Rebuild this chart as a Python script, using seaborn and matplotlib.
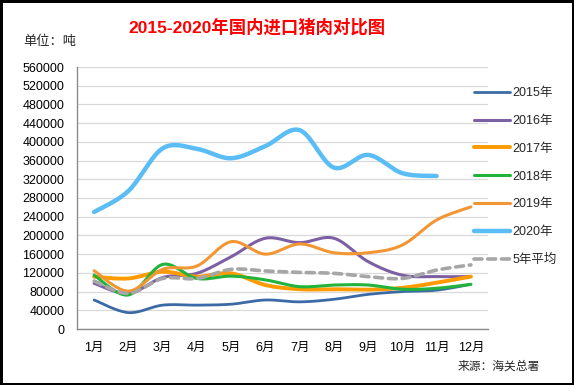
import matplotlib
matplotlib.use("Agg")
import matplotlib.pyplot as plt
import numpy as np
import pandas as pd
import seaborn as sns

# --- Data (tonnes per month) ---
MONTHS = ["1月", "2月", "3月", "4月", "5月", "6月", "7月", "8月", "9月", "10月", "11月", "12月"]
Y2015 = [62000, 35000, 51000, 51000, 53000, 62000, 58000, 63500, 74000, 80000, 83000, 95500]
Y2016 = [97600, 76000, 110000, 119000, 154500, 194000, 184500, 194000, 144000, 115000, 112000, 112000]
Y2017 = [111800, 108000, 122500, 112000, 119000, 94000, 85000, 85000, 84000, 88000, 99000, 112000]
Y2018 = [115000, 72700, 138000, 108000, 113000, 105000, 90500, 94000, 94000, 85000, 87000, 95500]
Y2019 = [124500, 81000, 127500, 134600, 186600, 160000, 181700, 163000, 163000, 179500, 233000, 261000]
Y2020 = [250000, 295000, 386000, 385000, 365000, 391000, 425000, 345000, 372000, 333000, 327000]
AVG5 = [102500, 76000, 108000, 108000, 127500, 124000, 121000, 119000, 112000, 108000, 126000, 137000]
Y_TICKS = list(range(0, 560001, 40000))

SERIES = [
    ("2015年", Y2015, "#3C6AA6", 2.0, "-"),
    ("2016年", Y2016, "#7D5FA3", 2.2, "-"),
    ("2017年", Y2017, "#FF9B00", 2.8, "-"),
    ("2018年", Y2018, "#22B33C", 2.2, "-"),
    ("2019年", Y2019, "#F29634", 2.2, "-"),
    ("2020年", Y2020, "#5BBDF5", 3.2, "-"),
    ("5年平均", AVG5, "#A6A6A6", 2.6, (0, (2.2, 1.6))),
]


def smooth(values, n=20):
    """Excel-like smoothed line: cubic Bezier with Catmull-Rom control points."""
    p = np.column_stack([np.arange(len(values), dtype=float), np.asarray(values, float)])
    ext = np.vstack([p[0], p, p[-1]])
    t = np.linspace(0, 1, n)[:, None]
    out = [p[:1]]
    for i in range(len(p) - 1):
        p0, p3 = ext[i + 1], ext[i + 2]
        c1 = p0 + (ext[i + 2] - ext[i]) / 6
        c2 = p3 - (ext[i + 3] - ext[i + 1]) / 6
        seg = (1 - t) ** 3 * p0 + 3 * (1 - t) ** 2 * t * c1 + 3 * (1 - t) * t ** 2 * c2 + t ** 3 * p3
        out.append(seg[1:])
    pts = np.vstack(out)
    return pts[:, 0], pts[:, 1]


sns.set_theme(style="white")
plt.rcParams["font.family"] = ["Liberation Sans", "Noto Sans CJK SC", "DejaVu Sans"]

fig = plt.figure(figsize=(5.74, 3.85), dpi=100)
fig.patch.set_facecolor("white")
fig.patch.set_edgecolor("black")
fig.patch.set_linewidth(2.5)
ax = fig.add_axes([77 / 574, 56 / 385, 411 / 574, 262 / 385])

for name, vals, color, lw, ls in SERIES:
    xs, ys = smooth(vals)
    df = pd.DataFrame({"x": xs, "y": ys})
    sns.lineplot(data=df, x="x", y="y", sort=False, estimator=None, ax=ax,
                 color=color, linewidth=lw, linestyle=ls, label=name,
                 solid_capstyle="round", dash_capstyle="round")

ax.set_xlim(-0.5, 11.5)
ax.set_ylim(0, 560000)
ax.set_yticks(Y_TICKS)
ax.set_yticklabels([str(v) for v in Y_TICKS], fontsize=9)
ax.set_xticks(range(len(MONTHS)))
ax.set_xticklabels(MONTHS, fontsize=9)
ax.tick_params(axis="y", length=0, pad=9, colors="black")
ax.tick_params(axis="x", length=0, pad=9, colors="black")
ax.set_xlabel("")
ax.set_ylabel("")
ax.grid(axis="y", color="#D9D9D9", linewidth=0.9)
ax.set_axisbelow(True)
for side in ["top", "right"]:
    ax.spines[side].set_visible(False)
for side in ["left", "bottom"]:
    ax.spines[side].set_color("#8C8C8C")
    ax.spines[side].set_linewidth(1.0)

ax.legend(loc="upper left", bbox_to_anchor=(474 / 574, 1 - 87 / 385),
          bbox_transform=fig.transFigure, frameon=False, fontsize=9,
          handlelength=2.9, handletextpad=0.15, labelspacing=1.27,
          borderaxespad=0, borderpad=0)

fig.text(257 / 574, 1 - 27 / 385, "2015-2020年国内进口猪肉对比图", color="red",
         fontsize=12.5, fontweight="bold", ha="center", va="center")
fig.text(23 / 574, 1 - 42 / 385, "单位：吨", fontsize=9.5, ha="left", va="center")
fig.text(540 / 574, 1 - 367 / 385, "来源：海关总署", fontsize=8.5, style="italic",
         ha="right", va="center")

fig.savefig("out.png", dpi=100)
